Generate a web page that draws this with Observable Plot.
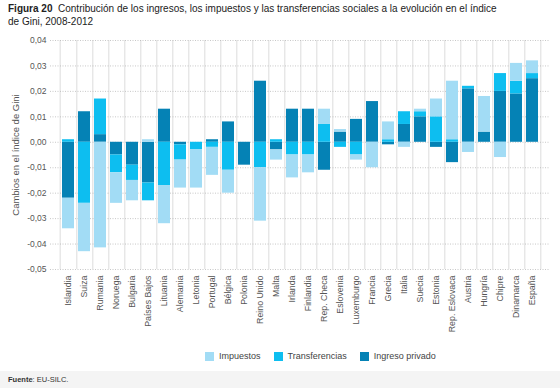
<!DOCTYPE html>
<html><head><meta charset="utf-8">
<script src="https://cdn.jsdelivr.net/npm/d3@7"></script>
<script src="https://cdn.jsdelivr.net/npm/@observablehq/plot@0.6"></script>
<style>
body{margin:0;width:560px;height:388px;background:#fff;font-family:"Liberation Sans",Arial,sans-serif;position:relative;overflow:hidden}
#title{position:absolute;left:8px;top:2px;font-size:10px;line-height:13px;color:#222;width:550px}
#title b{font-weight:bold}
#chart{position:absolute;left:0;top:34px}
#legend{position:absolute;left:205px;top:351px;font-size:9px;color:#444;display:flex;align-items:center}
#legend span.sw{display:inline-block;width:9px;height:9px;margin-right:5px}
#legend span.it{display:flex;align-items:center;margin-right:13px}
#footer{position:absolute;left:0;top:371px;width:560px;height:17px;background:#f4f4f4;font-size:7.5px;color:#333;padding-left:8px;box-sizing:border-box;line-height:17px}
</style></head>
<body>
<div id="title"><b>Figura 20</b>&nbsp; Contribución de los ingresos, los impuestos y las transferencias sociales a la evolución en el índice<br>de Gini, 2008-2012</div>
<div id="chart"></div>
<div id="legend"></div>
<div id="footer"><b>Fuente</b>: EU-SILC.</div>
<script>
const countries = ["Islandia","Suiza","Rumania","Noruega","Bulgaria","Países Bajos","Lituania","Alemania","Letonia","Portugal","Bélgica","Polonia","Reino Unido","Malta","Irlanda","Finlandia","Rep. Checa","Eslovenia","Luxemburgo","Francia","Grecia","Italia","Suecia","Estonia","Rep. Eslovaca","Austria","Hungría","Chipre","Dinamarca","España"];
const privado =        [-0.022, 0.012, 0.003, -0.005, -0.009, -0.016, 0.013, -0.001, 0, 0.001, 0.008, -0.009, 0.024, -0.003, 0.013, 0.013, -0.011, 0.004, 0.009, 0.016, -0.001, 0.007, 0.010, -0.002, -0.008, 0.021, 0.004, 0.020, 0.019, 0.025];
const transferencias = [0.001, -0.024, 0.014, -0.007, -0.006, -0.007, -0.017, -0.006, -0.003, -0.002, -0.011, 0, -0.010, 0.001, -0.005, -0.005, 0.007, -0.002, -0.005, 0, 0.001, 0.005, 0.002, 0.010, 0.001, 0.001, 0, 0.007, 0.005, 0.002];
const impuestos =      [-0.012, -0.019, -0.0415, -0.012, -0.008, 0.001, -0.015, -0.011, -0.015, -0.011, -0.009, 0, -0.021, -0.004, -0.009, -0.007, 0.006, 0.001, -0.002, -0.010, 0.007, -0.002, 0.001, 0.007, 0.023, -0.004, 0.014, -0.006, 0.007, 0.005];
const seriesNames = ["Impuestos","Transferencias","Ingreso privado"];
const seriesColors = ["#a2dcf5","#0dbef0","#0582b5"];
const yTicks = [-0.05,-0.04,-0.03,-0.02,-0.01,0,0.01,0.02,0.03,0.04];

const data = countries.flatMap((c,i)=>[
  {country:c, series:"Ingreso privado", value:privado[i]},
  {country:c, series:"Transferencias", value:transferencias[i]},
  {country:c, series:"Impuestos", value:impuestos[i]}
]);

const W=560,H=312,ML=50,MR=10;
const step=(W-ML-MR)/countries.length;
const fmt = d => d.toFixed(2).replace(".", ",");

const chart = Plot.plot({
  width:W, height:H, marginTop:6, marginBottom:77, marginLeft:ML, marginRight:MR,
  style:{fontFamily:"Liberation Sans, Arial, sans-serif", fontSize:"8px", color:"#555", background:"transparent"},
  x:{domain:countries, paddingInner:0.26, paddingOuter:0.13, label:null},
  y:{domain:[-0.05,0.04], label:null},
  color:{domain:seriesNames, range:seriesColors},
  marks:[
    Plot.gridX(countries, {dx:step/2, stroke:"#dcdcdc", strokeOpacity:1, strokeWidth:1}),
    Plot.gridX([countries[0]], {dx:-step/2, stroke:"#dcdcdc", strokeOpacity:1, strokeWidth:1}),
    Plot.gridY(yTicks, {stroke:"#b0b0b0", strokeOpacity:1, strokeWidth:0.7, strokeDasharray:"1,1.5"}),
    Plot.barY(data, {x:"country", y:"value", fill:"series"}),
    Plot.axisY(yTicks, {tickFormat:fmt, tickSize:0, tickPadding:4, label:"Cambios en el índice de Gini", labelAnchor:"center", labelOffset:38, labelArrow:"none", fontSize:8.5}),
    Plot.axisX({tickRotate:-90, tickSize:0, tickPadding:6, label:null, fontSize:8.8})
  ]
});
document.getElementById("chart").appendChild(chart);
chart.querySelectorAll("[aria-label='y-axis label'] text, [aria-label='y-axis label']").forEach(el=>el.setAttribute("font-size","9.5"));

const lg = document.getElementById("legend");
seriesNames.forEach((s,i)=>{
  const it=document.createElement("span"); it.className="it";
  const sw=document.createElement("span"); sw.className="sw"; sw.style.background=seriesColors[i];
  it.appendChild(sw); it.appendChild(document.createTextNode(s)); lg.appendChild(it);
});
</script>
</body></html>
